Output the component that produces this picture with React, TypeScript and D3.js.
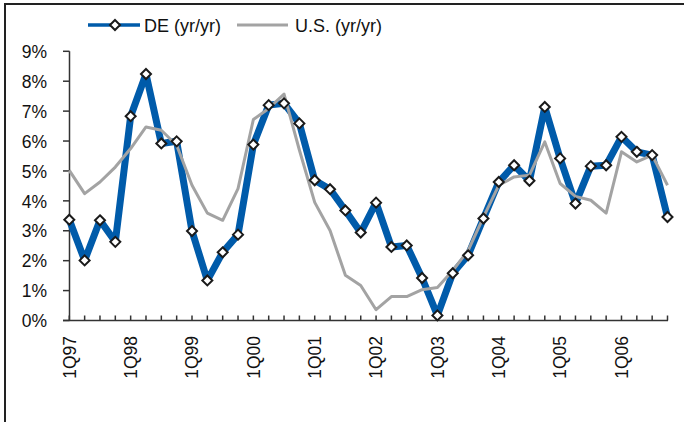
import React from "react";
import * as d3 from "d3";

// quarterly, 1Q97 .. 4Q06
const quarters: string[] = [];
for (let y = 97; y <= 106; y++) {
  for (let q = 1; q <= 4; q++) {
    quarters.push(`${q}Q${String(y % 100).padStart(2, "0")}`);
  }
}

const deValues = [
  3.37, 2.01, 3.35, 2.63, 6.83, 8.24, 5.92, 5.99, 2.99, 1.34,
  2.28, 2.87, 5.88, 7.2, 7.26, 6.59, 4.69, 4.39, 3.68, 2.94,
  3.94, 2.46, 2.51, 1.42, 0.17, 1.58, 2.18, 3.41, 4.63, 5.19,
  4.67, 7.14, 5.42, 3.91, 5.16, 5.19, 6.14, 5.64, 5.53, 3.46,
];

const usValues = [
  5.02, 4.24, 4.63, 5.13, 5.75, 6.47, 6.36, 5.86, 4.52, 3.59,
  3.35, 4.41, 6.72, 7.09, 7.57, 5.7, 3.95, 3.01, 1.51, 1.17,
  0.36, 0.8, 0.8, 1.03, 1.1, 1.67, 2.34, 3.46, 4.52, 4.8,
  4.86, 5.97, 4.58, 4.15, 4.02, 3.59, 5.64, 5.3, 5.53, 4.52,
];

const yTicks = [0, 1, 2, 3, 4, 5, 6, 7, 8, 9];

const BLUE = "#005BAA";
const GREY = "#A3A3A3";
const FONT = "'Liberation Sans', Arial, sans-serif";

function Diamond({ x, y, r = 5 }: { x: number; y: number; r?: number }) {
  return (
    <path
      d={`M${x},${y - r}L${x + r},${y}L${x},${y + r}L${x - r},${y}Z`}
      fill="#fff"
      stroke="#1a1a1a"
      strokeWidth={2}
    />
  );
}

export default function App() {
  const width = 684;
  const height = 422;

  const x = d3
    .scalePoint<number>()
    .domain(d3.range(quarters.length))
    .range([69.3, 667.5]);
  const y = d3.scaleLinear().domain([0, 9]).range([320.5, 51.3]);

  const line = d3
    .line<number>()
    .x((_, i) => x(i)!)
    .y((d) => y(d));

  return (
    <>
      <style>{"body{margin:0}"}</style>
      <svg width={width} height={height} style={{ display: "block" }} fontFamily={FONT}>
        <rect width={width} height={height} fill="#fff" />
        {/* frame */}
        <line x1={5} x2={width} y1={4} y2={4} stroke="#222" strokeWidth={2} />
        <line x1={5} x2={5} y1={3} y2={height} stroke="#222" strokeWidth={2} />

        {/* legend */}
        <g>
          <line x1={88} x2={140} y1={25} y2={25} stroke={BLUE} strokeWidth={3.5} />
          <Diamond x={115} y={25} r={5} />
          <text x={144} y={32} fontSize={18} fill="#111">
            DE (yr/yr)
          </text>
          <line x1={237} x2={288} y1={25} y2={25} stroke={GREY} strokeWidth={3} />
          <text x={295} y={32} fontSize={18} fill="#111">
            U.S. (yr/yr)
          </text>
        </g>

        {/* y axis */}
        <line x1={69.5} x2={69.5} y1={y(9)} y2={y(0)} stroke="#333" strokeWidth={1.5} />
        {yTicks.map((t) => (
          <g key={t}>
            <line x1={63} x2={69.5} y1={y(t)} y2={y(t)} stroke="#333" strokeWidth={1.5} />
            <text x={47} y={y(t)} dy="0.38em" textAnchor="end" fontSize={17.5} fill="#111">
              {t}%
            </text>
          </g>
        ))}

        {/* x axis */}
        <line x1={63} x2={668} y1={y(0)} y2={y(0)} stroke="#333" strokeWidth={1.5} />
        {quarters.map((q, i) => (
          <line
            key={q}
            x1={x(i)}
            x2={x(i)}
            y1={y(0)}
            y2={y(0) - 5}
            stroke="#333"
            strokeWidth={1.5}
          />
        ))}
        {quarters.map((q, i) =>
          q.startsWith("1Q") ? (
            <text
              key={`l${q}`}
              transform={`translate(${x(i)},336) rotate(-90)`}
              dy="0.36em"
              textAnchor="end"
              fontSize={17.5}
              fill="#111"
            >
              {q}
            </text>
          ) : null
        )}

        {/* series */}
        <path
          d={line(deValues) || ""}
          fill="none"
          stroke={BLUE}
          strokeWidth={7}
          strokeLinejoin="round"
        />
        <path
          d={line(usValues) || ""}
          fill="none"
          stroke={GREY}
          strokeWidth={3}
          strokeLinejoin="round"
        />
        {deValues.map((v, i) => (
          <Diamond key={i} x={x(i)!} y={y(v)} r={5} />
        ))}
      </svg>
    </>
  );
}
